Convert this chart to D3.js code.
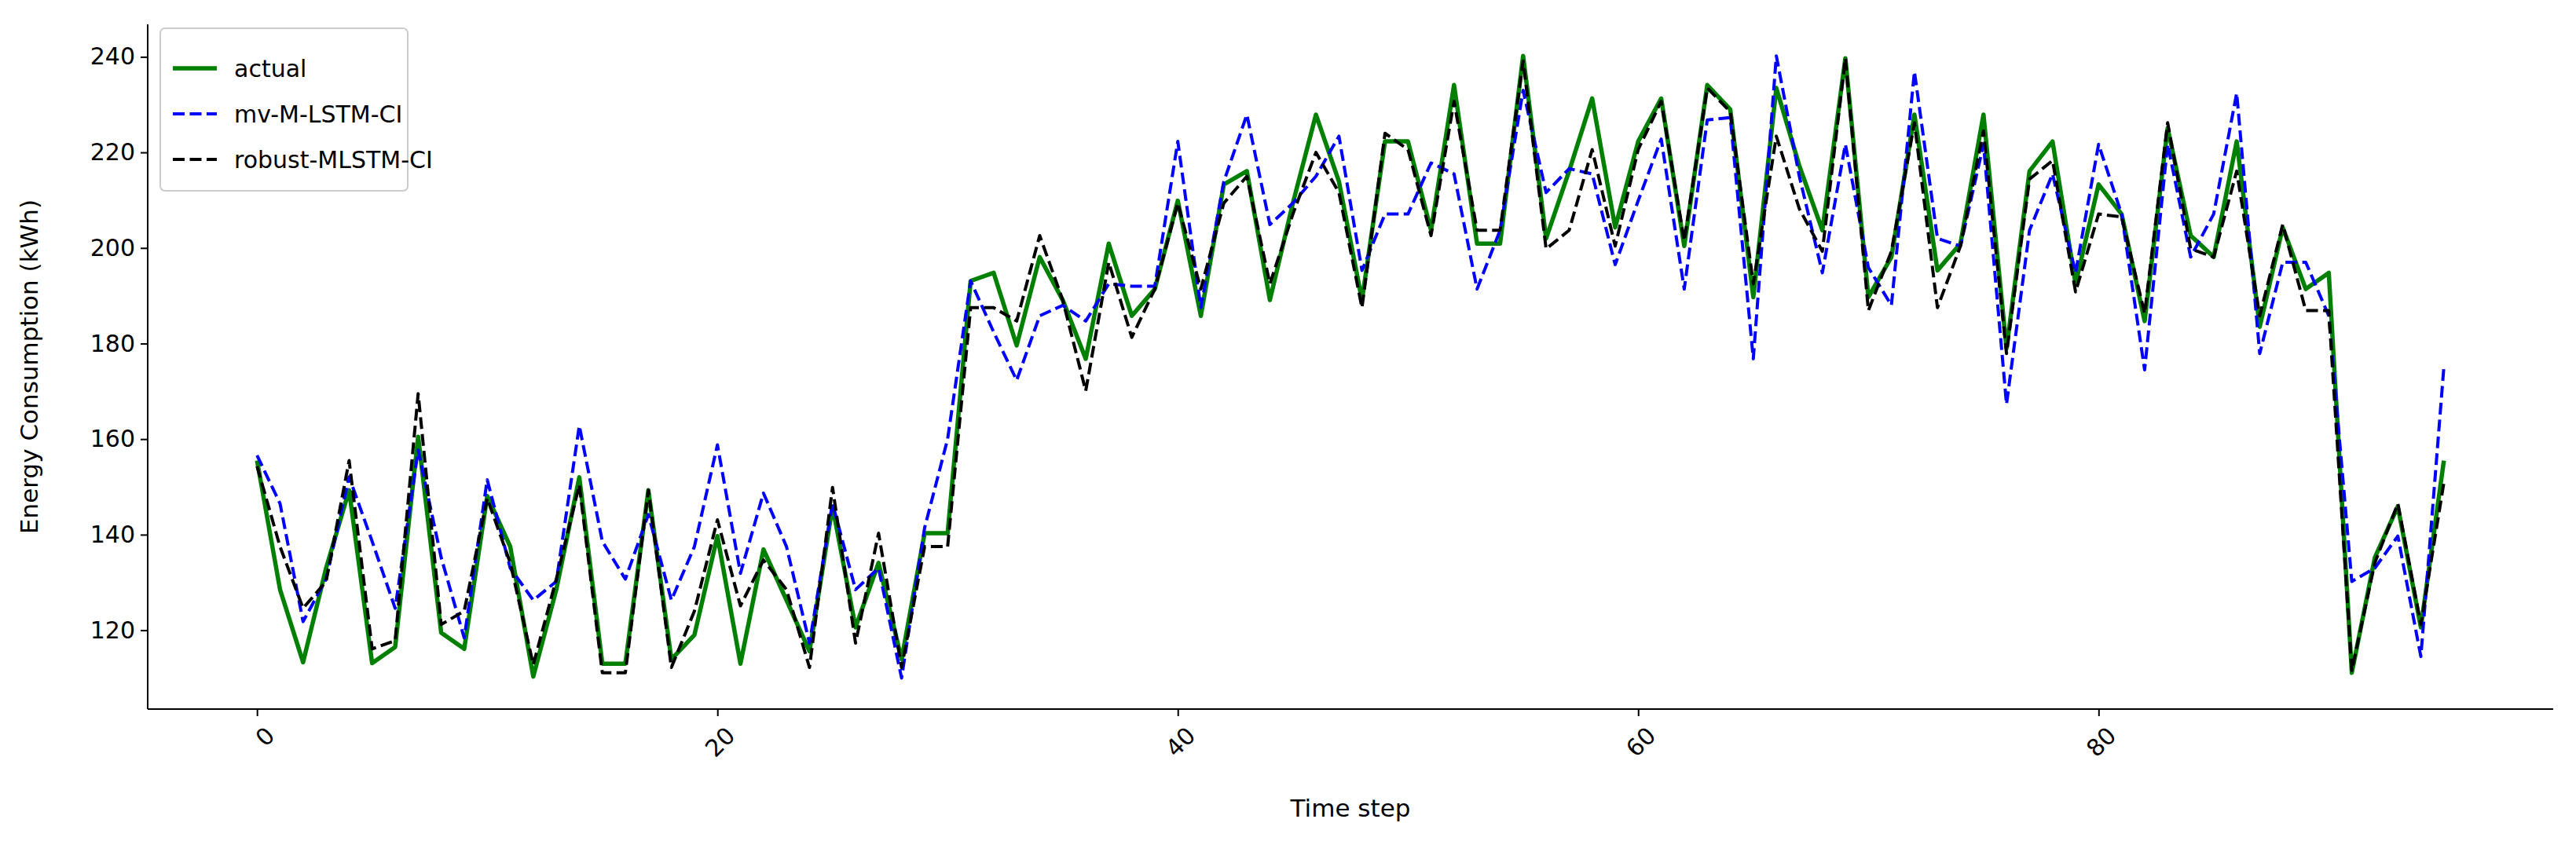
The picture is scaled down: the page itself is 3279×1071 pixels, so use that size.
<!DOCTYPE html>
<html>
<head>
<meta charset="utf-8">
<script src="https://cdnjs.cloudflare.com/ajax/libs/d3/7.8.5/d3.min.js"></script>
<style>
  body { margin: 0; background: #fff; }
  text { font-family: "DejaVu Sans", sans-serif; }
</style>
</head>
<body>
<div id="chart"></div>
<script>
var actual = [155.5,128.5,113.3,133,149.3,113.1,116.5,160.5,119.5,116.1,148.1,137.5,110.3,128.5,152,113,113,149.3,113.9,119,139.7,113,136.9,126.3,115.6,145.9,120.6,134.1,113.9,
  140.3,140.3,193.1,194.8,179.6,198.1,189.1,176.8,200.9,185.8,191.4,209.9,185.8,213.3,216.1,189.1,209.4,227.9,213.9,189.1,222.3,222.3,203.7,234.1,200.9,200.9,240.2,202,216.1,
  231.3,204.3,222.3,231.3,200.4,234.1,229,189.7,233.5,217.2,203.7,239.7,189.7,198.1,227.9,195.3,200.9,227.9,179,216.1,222.3,192.5,213.3,207.1,184.7,225.1,202.6,198.1,222.3,
  183.5,204.3,191.4,194.8,111.1,135.2,145.9,120.6,155.5];
var mvMLSTM = [156.6,146.5,121.8,130.7,152.1,138.6,124.6,157.7,135.2,118.4,151.5,133,126.3,130.2,162.8,138.6,130.7,144.2,126.3,137.5,158.8,131.9,148.7,137.5,117.3,146.5,128.5,133,110,
  141.4,160,193.1,182.4,172.3,185.8,188,184.7,192.5,192,192,222.3,187.5,213.9,227.9,204.9,209.4,215,223.4,195.3,207.1,207.1,217.8,215.5,191.4,203.7,233,211.6,216.6,
  215.5,196.5,209.9,222.8,191.4,226.8,227.3,176.8,240.2,215,194.8,221.7,195.9,188,236.9,202,200.4,221.7,167.3,203.7,215.5,194.8,221.7,207.1,174.5,221.7,198.1,207.1,232.4,
  177.9,197,197,185.8,130.2,133,139.7,114.5,175.1];
var robust = [154.3,137.5,124.6,130.2,155.5,116.1,117.8,169.5,121.2,124,147.6,134.1,112.8,130.7,150.4,111.1,111.1,149.3,112.2,124,143.1,125.1,134.7,128.5,112.2,149.9,117.3,140.3,112.2,
  137.5,137.5,187.5,187.5,184.7,202.6,189.1,170.1,197,181.3,191.4,209.4,191.4,209.4,215,192.5,207.1,220,211.6,187.5,224,220.6,202.6,230.7,203.7,203.7,239.1,199.8,203.7,
  220.6,200.4,220.6,230.7,201.5,233.5,228.5,192.5,223.4,208.2,199.3,239.7,186.9,199.3,226.2,187.5,200.4,224.5,177.9,214.4,218.3,190.8,207.1,206.5,186.3,226.2,199.8,198.1,216.1,
  185.8,204.9,186.9,186.9,111.6,134.1,146.5,121.2,150.9];
var xTicks = [0, 20, 40, 60, 80];
var yTicks = [120, 140, 160, 180, 200, 220, 240];
var seriesNames = ["actual", "mv-M-LSTM-CI", "robust-MLSTM-CI"];

var W = 3279, H = 1071;
var m = {left: 188, right: 3250, top: 31, bottom: 903};
var svg = d3.select("#chart").append("svg").attr("width", W).attr("height", H);

var x = d3.scaleLinear().domain([-4.75, 99.75]).range([m.left, m.right]);
var y = d3.scaleLinear().domain([103.5, 246.8]).range([m.bottom, m.top]);

var series = [
  {name: seriesNames[0], values: actual, color: "green", width: 5.5, dash: null},
  {name: seriesNames[1], values: mvMLSTM, color: "blue", width: 4, dash: "15,6.5"},
  {name: seriesNames[2], values: robust, color: "black", width: 4, dash: "15,6.5"}
];

var line = d3.line().x(function(d, i) { return x(i); }).y(function(d) { return y(d); });
series.forEach(function(s) {
  svg.append("path").attr("d", line(s.values)).attr("fill", "none")
    .attr("stroke", s.color).attr("stroke-width", s.width)
    .attr("stroke-dasharray", s.dash).attr("stroke-linejoin", "round");
});

// axes
var xAxis = svg.append("g").attr("transform", "translate(0," + m.bottom + ")")
  .call(d3.axisBottom(x).tickValues(xTicks).tickSize(9).tickPadding(0));
xAxis.selectAll("text").attr("font-size", 30).attr("fill", "#000")
  .attr("text-anchor", "end").attr("dy", "0.35em")
  .attr("transform", "translate(10,22) rotate(-45)");
var yAxis = svg.append("g").attr("transform", "translate(" + m.left + ",0)")
  .call(d3.axisLeft(y).tickValues(yTicks).tickSize(9).tickPadding(7));
yAxis.selectAll("text").attr("font-size", 30).attr("fill", "#000");
svg.selectAll(".domain").attr("stroke-width", 2).attr("d", null);
xAxis.select(".domain").attr("d", "M" + m.left + ",0H" + m.right);
yAxis.select(".domain").attr("d", "M0," + m.bottom + "V" + m.top);
svg.selectAll(".tick line").attr("stroke-width", 2);

svg.append("text").attr("x", (m.left + m.right) / 2).attr("y", 1040)
  .attr("text-anchor", "middle").attr("font-size", 31).text("Time step");
svg.append("text").attr("transform", "translate(48," + ((m.top + m.bottom) / 2) + ") rotate(-90)")
  .attr("text-anchor", "middle").attr("font-size", 31).text("Energy Consumption (kWh)");

// legend
var lg = svg.append("g").attr("transform", "translate(204,36)");
lg.append("rect").attr("width", 315).attr("height", 207).attr("rx", 6)
  .attr("fill", "#fff").attr("fill-opacity", 0.8).attr("stroke", "#ccc").attr("stroke-width", 2);
series.forEach(function(s, i) {
  var yy = 51 + i * 58;
  lg.append("line").attr("x1", 16).attr("x2", 72).attr("y1", yy).attr("y2", yy)
    .attr("stroke", s.color).attr("stroke-width", s.width).attr("stroke-dasharray", s.dash);
  lg.append("text").attr("x", 94).attr("y", yy).attr("dy", "0.35em")
    .attr("font-size", 30).text(s.name);
});
</script>
</body>
</html>
